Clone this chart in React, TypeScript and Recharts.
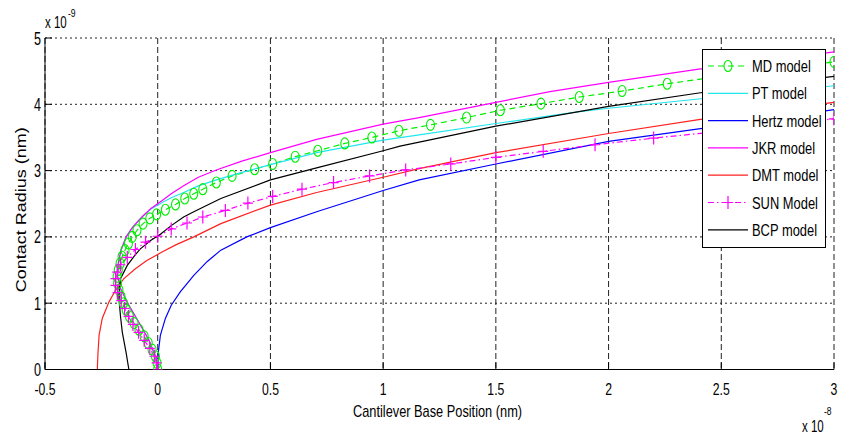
import { LineChart, Line, XAxis, YAxis, CartesianGrid, Legend } from 'recharts';

// [cantilever base position (x 1e-8 nm), contact radius (x 1e-9 nm)]
const mdModel: [number, number][] = [
  [0, 0], [-0.003, 0.1], [-0.01, 0.2], [-0.025, 0.3], [-0.042, 0.4], [-0.06, 0.5], [-0.083, 0.6],
  [-0.105, 0.7], [-0.125, 0.8], [-0.14, 0.9], [-0.152, 1.0], [-0.163, 1.1], [-0.172, 1.2], [-0.178, 1.3],
  [-0.18, 1.4], [-0.175, 1.5], [-0.167, 1.6], [-0.158, 1.7], [-0.145, 1.8], [-0.13, 1.9], [-0.113, 2.0],
  [-0.092, 2.1], [-0.065, 2.2], [-0.035, 2.28], [-0.005, 2.34], [0.034, 2.41], [0.079, 2.49], [0.12, 2.58],
  [0.16, 2.65], [0.2, 2.72], [0.26, 2.82], [0.33, 2.92], [0.43, 3.02], [0.51, 3.1], [0.61, 3.21], [0.71, 3.3],
  [0.83, 3.41], [0.95, 3.5], [1.07, 3.6], [1.21, 3.69], [1.37, 3.8], [1.52, 3.91], [1.7, 4.01], [1.87, 4.11],
  [2.06, 4.2], [2.26, 4.31], [2.47, 4.41], [2.72, 4.52], [3.0, 4.64],
];

const ptModel: [number, number][] = [
  [0, 0], [-0.01, 0.2], [-0.04, 0.45], [-0.083, 0.71], [-0.128, 0.97], [-0.165, 1.22], [-0.178, 1.4],
  [-0.175, 1.6], [-0.163, 1.8], [-0.14, 2.0], [-0.11, 2.15], [-0.07, 2.3], [-0.03, 2.42], [0.02, 2.52],
  [0.06, 2.59], [0.115, 2.67], [0.18, 2.77], [0.26, 2.86], [0.37, 2.97], [0.5, 3.09], [0.705, 3.27],
  [1.0, 3.46], [1.16, 3.54], [1.5, 3.71], [1.87, 3.89], [2.0, 3.94], [2.4, 4.08], [2.7, 4.18], [3.0, 4.28],
];

const hertzModel: [number, number][] = [
  [0, 0], [0.003, 0.27], [0.012, 0.52], [0.034, 0.77], [0.06, 0.97], [0.1, 1.17], [0.16, 1.42],
  [0.22, 1.63], [0.28, 1.8], [0.395, 2.0], [0.5, 2.14], [0.705, 2.38], [1.0, 2.7], [1.16, 2.86],
  [1.5, 3.1], [2.0, 3.44], [2.4, 3.63], [2.7, 3.77], [3.0, 3.92],
];

const jkrModel: [number, number][] = [
  [0, 0], [-0.01, 0.2], [-0.04, 0.45], [-0.083, 0.71], [-0.128, 0.97], [-0.165, 1.22], [-0.178, 1.4],
  [-0.175, 1.6], [-0.163, 1.8], [-0.14, 2.0], [-0.11, 2.15], [-0.07, 2.3], [-0.03, 2.43], [0.02, 2.55],
  [0.06, 2.65], [0.115, 2.77], [0.18, 2.9], [0.26, 3.01], [0.37, 3.14], [0.5, 3.27], [0.705, 3.47],
  [1.0, 3.7], [1.16, 3.8], [1.5, 4.03], [1.74, 4.19], [2.0, 4.33], [2.4, 4.53], [2.7, 4.65], [3.0, 4.79],
];

const dmtModel: [number, number][] = [
  [-0.268, 0], [-0.265, 0.25], [-0.26, 0.52], [-0.246, 0.77], [-0.216, 1.02], [-0.18, 1.24], [-0.15, 1.37],
  [-0.099, 1.52], [-0.05, 1.64], [0.013, 1.76], [0.08, 1.88], [0.16, 2.0], [0.28, 2.2], [0.5, 2.48],
  [0.705, 2.67], [1.0, 2.9], [1.16, 3.03], [1.5, 3.27], [2.0, 3.56], [2.4, 3.77], [2.7, 3.9], [3.0, 4.03],
];

const sunModel: [number, number][] = [
  [0, 0], [-0.005, 0.1], [-0.015, 0.2], [-0.035, 0.32], [-0.06, 0.44], [-0.085, 0.56], [-0.11, 0.68],
  [-0.13, 0.8], [-0.147, 0.92], [-0.162, 1.04], [-0.178, 1.16], [-0.187, 1.27], [-0.187, 1.37], [-0.18, 1.47],
  [-0.165, 1.58], [-0.135, 1.69], [-0.099, 1.81], [-0.054, 1.92], [0, 2.01], [0.06, 2.12], [0.13, 2.21],
  [0.2, 2.3], [0.3, 2.4], [0.4, 2.51], [0.51, 2.61], [0.64, 2.72], [0.78, 2.82], [0.94, 2.92], [1.1, 3.01],
  [1.3, 3.1], [1.5, 3.2], [1.71, 3.29], [1.94, 3.39], [2.2, 3.49], [2.46, 3.58], [2.72, 3.68], [3.0, 3.78],
];

const bcpModel: [number, number][] = [
  [-0.128, 0], [-0.14, 0.25], [-0.157, 0.56], [-0.165, 0.8], [-0.172, 1.07], [-0.17, 1.22], [-0.165, 1.37],
  [-0.135, 1.57], [-0.1, 1.73], [-0.077, 1.82], [-0.03, 1.95], [0.012, 2.04], [0.06, 2.17], [0.115, 2.3],
  [0.16, 2.38], [0.28, 2.58], [0.5, 2.86], [0.705, 3.04], [1.0, 3.3], [1.075, 3.37], [1.5, 3.67],
  [2.0, 3.97], [2.4, 4.17], [2.7, 4.3], [3.0, 4.42],
];

const xTicks = [-0.5, 0, 0.5, 1, 1.5, 2, 2.5, 3];
const yTicks = [0, 1, 2, 3, 4, 5];

const FONT = '"Liberation Sans", Arial, sans-serif';

type Marker = 'circle' | 'plus' | 'none';

const series: { name: string; data: [number, number][]; color: string; dash?: string; marker: Marker }[] = [
  { name: 'MD model', data: mdModel, color: '#00ee00', dash: '6 4', marker: 'circle' },
  { name: 'PT model', data: ptModel, color: '#22e6ee', marker: 'none' },
  { name: 'Hertz model', data: hertzModel, color: '#0000ff', marker: 'none' },
  { name: 'JKR model', data: jkrModel, color: '#ff00ff', marker: 'none' },
  { name: 'DMT model', data: dmtModel, color: '#ff2020', marker: 'none' },
  { name: 'SUN Model', data: sunModel, color: '#ff00ff', dash: '6 3 1.5 3', marker: 'plus' },
  { name: 'BCP model', data: bcpModel, color: '#000000', marker: 'none' },
];

const toPoints = (pairs: [number, number][]) => pairs.map(([x, y]) => ({ x, y }));

const drawMarker = (marker: Marker, color: string, cx: number, cy: number, key?: string) => {
  if (marker === 'circle') {
    return <ellipse key={key} cx={cx} cy={cy} rx={4} ry={5.5} fill="none" stroke={color} strokeWidth={1.1} />;
  }
  if (marker === 'plus') {
    return (
      <path key={key} d={`M${cx - 5},${cy}H${cx + 5}M${cx},${cy - 6.5}V${cy + 6.5}`} stroke={color} strokeWidth={1.2} fill="none" />
    );
  }
  return <g key={key} />;
};

const XTick = (props: any) => {
  const { x, y, payload } = props;
  return (
    <g transform={`translate(${x},${y})`}>
      <text x={0} y={0} dy={12} textAnchor="middle" fontSize={17} fontFamily={FONT} fill="#000" transform="scale(0.72,1)">
        {String(payload.value)}
      </text>
    </g>
  );
};

const YTick = (props: any) => {
  const { x, y, payload } = props;
  return (
    <g transform={`translate(${x},${y})`}>
      <text x={0} y={0} dy={6.5} textAnchor="end" fontSize={18} fontFamily={FONT} fill="#000" transform="scale(0.7,1)">
        {String(payload.value)}
      </text>
    </g>
  );
};

const XLabel = (props: any) => {
  const { viewBox } = props;
  const right = viewBox.x + viewBox.width;
  return (
    <g fontFamily={FONT} fill="#000">
      <g transform={`translate(${viewBox.x + viewBox.width / 2 - 2},${viewBox.y + 47.5})`}>
        <text textAnchor="middle" fontSize={16} transform="scale(0.8,1)">Cantilever Base Position (nm)</text>
      </g>
      <g transform={`translate(${right - 32},${viewBox.y + 62})`}>
        <text fontSize={16} transform="scale(0.72,1)">x 10</text>
      </g>
      <g transform={`translate(${right - 10},${viewBox.y + 45.5})`}>
        <text fontSize={11} transform="scale(0.78,1)">-8</text>
      </g>
    </g>
  );
};

const YLabel = (props: any) => {
  const { viewBox } = props;
  return (
    <g fontFamily={FONT} fill="#000">
      <g transform={`translate(26,${viewBox.y + viewBox.height / 2 + 6}) scale(0.8,1) rotate(-90)`}>
        <text textAnchor="middle" fontSize={18}>Contact Radius (nm)</text>
      </g>
      <g transform={`translate(${viewBox.x + viewBox.width},${viewBox.y - 10})`}>
        <text fontSize={16} transform="scale(0.72,1)">x 10</text>
      </g>
      <g transform={`translate(${viewBox.x + viewBox.width + 23},${viewBox.y - 21})`}>
        <text fontSize={11} transform="scale(0.78,1)">-9</text>
      </g>
    </g>
  );
};

const LegendBox = () => (
  <div style={{ width: 124, height: 199, background: '#fff', border: '1px solid #000', boxSizing: 'border-box' }}>
    <svg width={122} height={197}>
      {series.map((s, i) => {
        const cy = 16 + i * 27.3;
        return (
          <g key={s.name}>
            <line x1={5} x2={45} y1={cy} y2={cy} stroke={s.color} strokeWidth={1.2} strokeDasharray={s.dash} />
            {drawMarker(s.marker, s.color, 25, cy)}
            <g transform={`translate(49,${cy + 6})`}>
              <text fontSize={17} fontFamily={FONT} fill="#000" transform="scale(0.76,1)">{s.name}</text>
            </g>
          </g>
        );
      })}
    </svg>
  </div>
);

export default function App() {
  return (
    <div style={{ position: 'absolute', left: 0, top: 0, width: 841, height: 444, background: '#fff' }}>
      <LineChart width={841} height={444} margin={{ top: 38, right: 7, bottom: 0, left: 0 }}>
        <CartesianGrid horizontal={true} vertical={false} stroke="#222" strokeDasharray="2 3" />
        <CartesianGrid horizontal={false} vertical={true} stroke="#222" strokeDasharray="6 3" />
        <XAxis
          dataKey="x"
          type="number"
          domain={[-0.5, 3]}
          ticks={xTicks}
          allowDataOverflow
          height={74.5}
          stroke="#000"
          tickSize={-7}
          tickMargin={20}
          tick={<XTick />}
          label={{ content: <XLabel /> }}
        />
        <XAxis xAxisId="top" orientation="top" type="number" domain={[-0.5, 3]} ticks={xTicks} allowDataOverflow height={0} stroke="#000" tickSize={-7} tick={false} />
        <YAxis
          type="number"
          domain={[0, 5]}
          ticks={yTicks}
          allowDataOverflow
          width={45}
          stroke="#000"
          tickSize={-7}
          tickMargin={11}
          tick={<YTick />}
          label={{ content: <YLabel /> }}
        />
        <YAxis yAxisId="right" orientation="right" type="number" domain={[0, 5]} ticks={yTicks} allowDataOverflow width={0} stroke="#000" tickSize={-7} tick={false} />
        {series.map((s) => (
          <Line
            key={s.name}
            name={s.name}
            data={toPoints(s.data)}
            dataKey="y"
            type="linear"
            stroke={s.color}
            strokeWidth={1.2}
            strokeDasharray={s.dash}
            isAnimationActive={false}
            activeDot={false}
            dot={s.marker === 'none' ? false : (p: any) => drawMarker(s.marker, s.color, p.cx, p.cy, `${s.name}-${p.index}`)}
          />
        ))}
        <Legend
          layout="vertical"
          align="center"
          verticalAlign="middle"
          content={<LegendBox />}
          wrapperStyle={{ left: 702, top: 49, width: 124, height: 199 }}
        />
      </LineChart>
    </div>
  );
}
